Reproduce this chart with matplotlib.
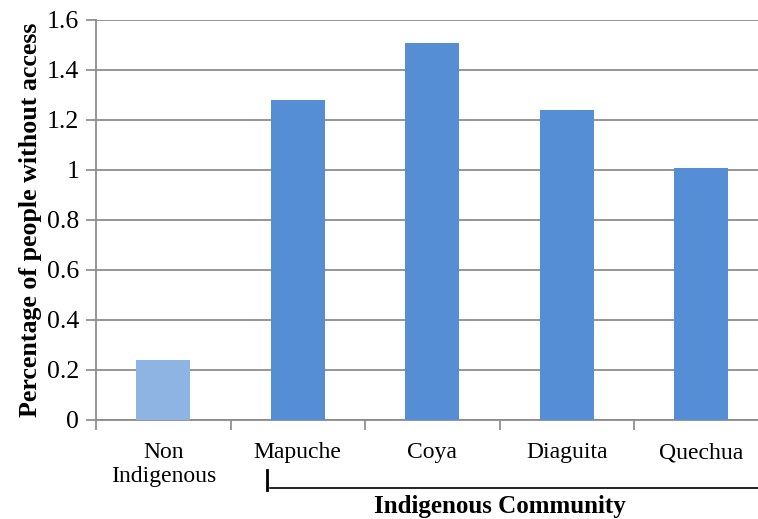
import numpy as np
import matplotlib.pyplot as plt
from matplotlib.transforms import blended_transform_factory

categories = ['Non\nIndigenous', 'Mapuche', 'Coya', 'Diaguita', 'Quechua']
values = [0.24, 1.28, 1.51, 1.24, 1.01]
colors = ['#8EB4E3', '#558ED5', '#558ED5', '#558ED5', '#558ED5']
yticks = [0, 0.2, 0.4, 0.6, 0.8, 1, 1.2, 1.4, 1.6]
ytick_labels = ['0', '0.2', '0.4', '0.6', '0.8', '1', '1.2', '1.4', '1.6']

plt.rcParams['font.family'] = ['Liberation Serif', 'DejaVu Serif']

fig = plt.figure(figsize=(7.58, 5.19), dpi=100)
ax = fig.add_axes([96 / 758, 1 - 420 / 519, 672.5 / 758, 400 / 519])

x = np.arange(len(categories))
ax.bar(x, values, width=0.4, color=colors, zorder=3)

ax.set_xlim(-0.5, len(categories) - 0.5)
ax.set_ylim(0, 1.6)
ax.set_yticks(yticks)
ax.set_yticklabels(ytick_labels, fontsize=18.5)
ax.set_xticks(x)
ax.set_xticklabels(categories, fontsize=17, linespacing=1.2)
# category boundary ticks
ax.set_xticks(np.arange(len(categories) + 1) - 0.5, minor=True)
ax.tick_params(axis='x', which='minor', length=7, color='#888888', width=1.2)
ax.tick_params(axis='x', which='major', length=0, pad=16)
ax.tick_params(axis='y', length=7, color='#888888', width=1.2, pad=5)

ax.yaxis.grid(True, color='#8c8c8c', linewidth=1.3, zorder=0)
for s in ['top', 'right']:
    ax.spines[s].set_visible(False)
ax.spines['left'].set_color('#8c8c8c')
ax.spines['bottom'].set_color('#8c8c8c')
ax.spines['left'].set_linewidth(1.3)
ax.spines['bottom'].set_linewidth(1.3)

ax.set_ylabel('Percentage of people without access', fontsize=18.7,
              fontweight='bold', labelpad=4)

# bracket under the indigenous communities
tr = blended_transform_factory(ax.transData, fig.transFigure)
ax.plot([0.77, 0.77], [1 - 470 / 519, 1 - 490 / 519], color='black',
        linewidth=2, transform=tr, clip_on=False)
ax.plot([0.79, 4.5], [1 - 488 / 519, 1 - 488 / 519], color='black',
        linewidth=1.2, transform=tr, clip_on=False)
ax.text(2.5, 1 - 507 / 519, 'Indigenous Community', transform=tr,
        ha='center', va='center', fontsize=18, fontweight='bold')

fig.savefig('out.png', dpi=100)
